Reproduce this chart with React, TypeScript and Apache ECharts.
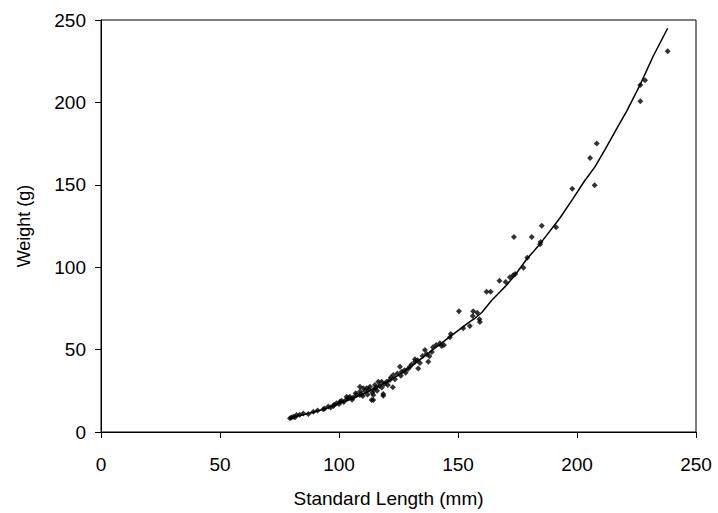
import React, { useEffect, useRef } from "react";
import * as echarts from "echarts";

const xTicks = [0, 50, 100, 150, 200, 250];
const yTicks = [0, 50, 100, 150, 200, 250];

// Observed fish: [standard length (mm), weight (g)]
const observed: [number, number][] = [
  [238.1, 231], [228.6, 213.4], [226.6, 210.6], [226.6, 200.7], [208.3, 175], [205.5, 166.3],
  [207.4, 149.7], [198, 147.6], [185.2, 125.2], [191.2, 124.2], [173.5, 118.3], [181, 118.3],
  [184.7, 115.3], [184.5, 113.9], [179.1, 105.8], [177.5, 99.7], [174, 95.9], [173.2, 95.1],
  [171.8, 93.9], [170, 91], [167.4, 91.8], [163.7, 85.1], [162, 85.1],
  [150.4, 73.2], [156.4, 73.2], [158.1, 72.4], [156.2, 70.4], [159, 68.4], [159.2, 66.7],
  [155, 64.3], [152.2, 62.9], [147, 59.5], [146.6, 57.5], [142.4, 53.8], [140.8, 52.8],
  [143.1, 52.2], [144.1, 52.8], [136.1, 49.8], [136.8, 47.3], [131.9, 44.1], [139.5, 51.5],
  [135.1, 46.1], [137.5, 42.7], [131.9, 42.7], [133.3, 38.6], [129.8, 39.6], [125.6, 39.6],
  [126.3, 36.6], [122.8, 34.6], [121.4, 31.6], [117.9, 30.5], [122.6, 27.1], [118.6, 23.1],
  [114.4, 25.5], [111.6, 26.5], [108.8, 27.5], [114.4, 22.5], [108.8, 22.5], [103.2, 21.4],
  [114.4, 19.4], [118.6, 22],
  [79.4, 8.3], [80.8, 9.3], [82.2, 10.3], [85, 11.3], [87.1, 10.9], [89.2, 12.3], [93.4, 13.8],
  [95.5, 15.4], [97.6, 15.8], [99, 17.4], [101.1, 19], [103.2, 19.8], [104.6, 21.4], [107.4, 22.5],
  [108.8, 24.5], [110.2, 26.5], [115.1, 28.5], [116.5, 30.5], [113.7, 19.4],
  [80, 8.8], [81.5, 9], [83.5, 10.5], [91, 13], [94, 14.2], [96.5, 14.8], [98, 16.5], [100, 17],
  [100.5, 18.5], [102, 18.2], [104, 20.5], [105.5, 19.5], [106, 21], [107, 23.5], [109.5, 23],
  [110, 21.8], [111, 24.8], [112, 22.8], [112.5, 25.8], [113, 27.5], [114, 24], [115.5, 26.8],
  [116, 25], [117, 28], [118, 27], [119, 29.2], [120, 30.5], [120.5, 28.5], [121.8, 33],
  [123.5, 32], [124.5, 35.5], [126, 34.2], [127.5, 37.5], [128, 36], [129, 38.2], [130.5, 41],
  [133, 43.5], [134, 41.8], [138, 46], [139, 48.5],
];

// Fitted curve: [standard length (mm), weight (g)]
const fitted: [number, number][] = [
  [79.4, 8.5], [85, 10.5], [90, 12.3], [95, 14.5], [100, 17.3], [105, 20], [110, 23],
  [115, 26.5], [120, 30.3], [125, 34.5], [130, 39.5], [135, 45], [140, 50.5], [145, 56],
  [150, 61.5], [155, 67], [157.1, 69], [160, 72.5], [164.2, 80], [167.6, 85], [170, 88.5],
  [174, 95.3], [178.9, 105], [182, 110], [185.2, 115.5], [192.9, 130], [198.4, 141.8],
  [203, 152], [207.6, 161], [212, 172], [216.4, 183.3], [221, 195], [226.5, 210.6],
  [232, 228], [238.1, 245],
];

const FONT = "'Liberation Sans', Arial, sans-serif";

export default function App() {
  const ref = useRef<HTMLDivElement>(null);
  useEffect(() => {
    if (!ref.current) return;
    const chart = echarts.init(ref.current, undefined, { renderer: "svg" });
    const axisCommon = {
      type: "value" as const,
      min: 0,
      max: 250,
      interval: 50,
      axisLine: { show: true, lineStyle: { color: "#000", width: 1 } },
      axisTick: { show: true, inside: false, length: 6, lineStyle: { color: "#000" } },
      splitLine: { show: false },
      nameLocation: "middle" as const,
    };
    chart.setOption({
      animation: false,
      backgroundColor: "#fff",
      grid: {
        left: 101,
        top: 20,
        right: 22,
        bottom: 81,
        show: true,
        borderColor: "#000",
        borderWidth: 1,
        backgroundColor: "transparent",
      },
      xAxis: {
        ...axisCommon,
        name: "Standard Length (mm)",
        nameGap: 57,
        nameTextStyle: {
          color: "#000",
          fontSize: 19,
          fontFamily: FONT,
          padding: [0, 20, 0, 0],
        },
        axisLabel: {
          color: "#000",
          fontSize: 19,
          fontFamily: FONT,
          margin: 23,
          formatter: (v: number) => (xTicks.includes(v) ? String(v) : ""),
        },
      },
      yAxis: {
        ...axisCommon,
        name: "Weight (g)",
        nameGap: 68,
        nameTextStyle: { color: "#000", fontSize: 18, fontFamily: FONT },
        axisLabel: {
          color: "#000",
          fontSize: 19,
          fontFamily: FONT,
          margin: 15,
          formatter: (v: number) => (yTicks.includes(v) ? String(v) : ""),
        },
      },
      series: [
        {
          type: "scatter",
          data: observed,
          symbol: "diamond",
          symbolSize: 6,
          itemStyle: { color: "#000" },
          z: 2,
        },
        {
          type: "line",
          data: fitted,
          showSymbol: false,
          symbol: "none",
          lineStyle: { color: "#000", width: 1.5 },
          z: 3,
        },
      ],
    });
    return () => chart.dispose();
  }, []);
  return (
    <div
      ref={ref}
      style={{ position: "absolute", left: 0, top: 0, width: 718, height: 513 }}
    />
  );
}
